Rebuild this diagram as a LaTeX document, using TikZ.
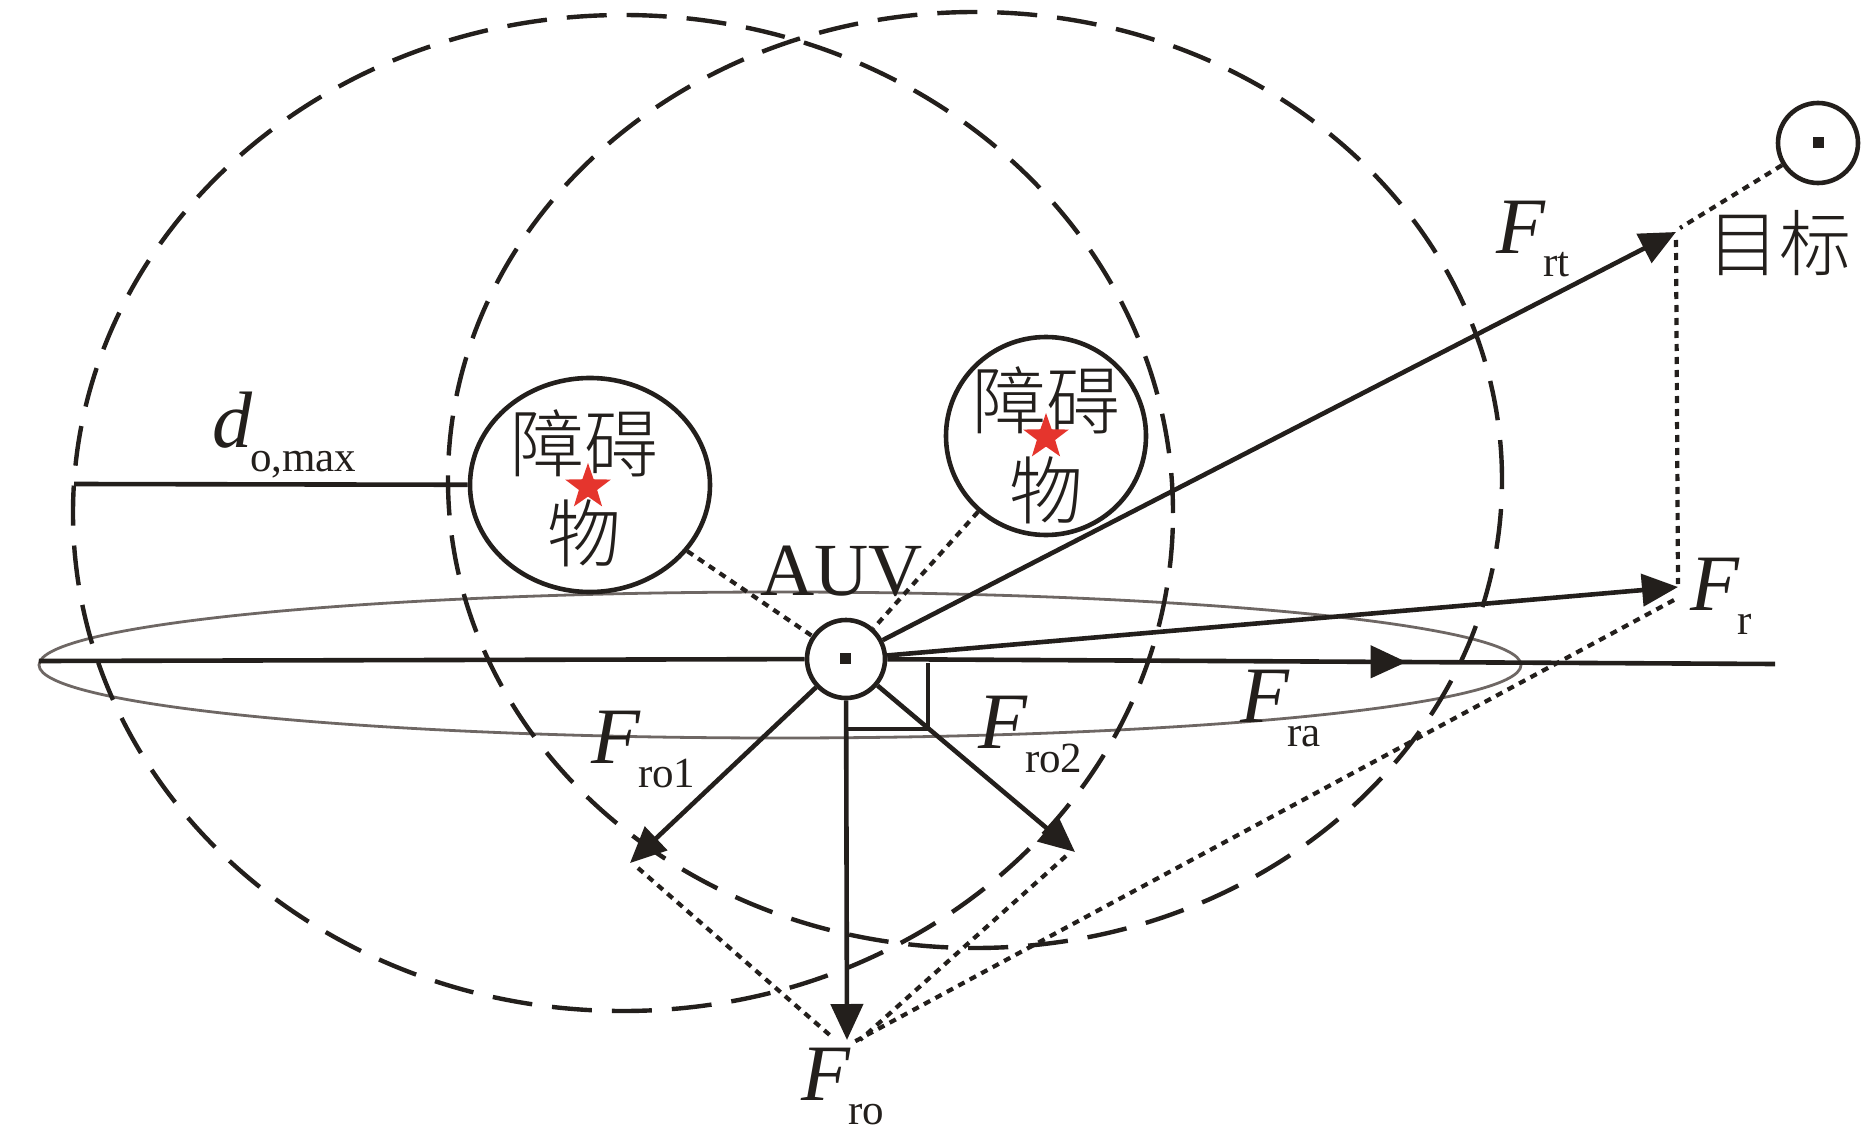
\documentclass[tikz,border=0pt]{standalone}
\usepackage{fontspec}
\setmainfont{Liberation Serif}
\newfontfamily\cjk{Noto Sans CJK SC Light}
\usetikzlibrary{arrows.meta}
\usetikzlibrary{shapes.geometric}
\usetikzlibrary{decorations.markings}
\definecolor{ink}{HTML}{231F1C}
\definecolor{starred}{HTML}{E5352D}
\definecolor{ringgray}{HTML}{6E6764}
\tikzset{
    force/.style={draw=ink, line width=4.6pt, -{Triangle[length=36pt,width=32pt]}},
    guide/.style={draw=ink, line width=4.2pt, dash pattern=on 7pt off 6pt},
    rangering/.style={shape=ellipse, draw=ink, line width=4.4pt, dash pattern=on 40pt off 20pt, inner sep=0pt},
    bodyring/.style={shape=circle, draw=ink, line width=4.6pt, fill=white, minimum size=78pt, inner sep=0pt},
    obstacle/.style={shape=ellipse, draw=ink, line width=4.6pt, inner sep=0pt},
    centredot/.style={shape=rectangle, fill=ink, minimum size=11pt, inner sep=0pt},
    redstar/.style={shape=star, star points=5, star point ratio=2.5, fill=starred, minimum size=48pt, inner sep=0pt},
    lab/.style={inner sep=0pt, anchor=base west, text=ink},
    cjklab/.style={inner sep=0pt, text=ink, align=center}}
% force symbol with its lowered index
\newcommand{\symb}[2]{{\fontsize{80}{80}\selectfont\itshape #1}\kern-2pt\raisebox{-24pt}{\fontsize{43}{43}\selectfont #2}}
\begin{document}
\begin{tikzpicture}[x=1pt, y=-1pt]
    \useasboundingbox (0,0) rectangle (1866,1134);

    \node[shape=ellipse, draw=ringgray, line width=2.8pt, minimum width=1482pt, minimum height=146pt, inner sep=0pt] (disc) at (780,665) {};
    \node[rangering, minimum width=1100pt, minimum height=996pt] (rangeA) at (623,513) {};
    \node[rangering, minimum width=1054pt, minimum height=936pt] (rangeB) at (975,480) {};

    \node[obstacle, minimum width=240pt, minimum height=214pt] (obsA) at (590,485) {};
    \node[obstacle, minimum width=200pt, minimum height=198pt] (obsB) at (1046,436) {};
    \node[bodyring] (auv) at (846,659) {};
    \node[bodyring, minimum size=80pt] (goal) at (1818,143) {};
    \node[centredot] (auvdot) at (845,658) {};
    \node[centredot] (goaldot) at (1818,143) {};

    \coordinate (axisL) at (39,661);
    \coordinate (axisR) at (1775,664);
    \coordinate (tipRt) at (1676,232);
    \coordinate (tipR) at (1678,587);
    \coordinate (tipRo) at (847,1040);
    \coordinate (tipA) at (630,863);
    \coordinate (tipB) at (1075,852);
    \coordinate (radL) at (74,484);
    \coordinate (cornerA) at (928,663);
    \coordinate (cornerB) at (928,729);
    \coordinate (cornerC) at (848,729);

    \draw[draw=ink, line width=4.6pt] (axisL) -- (auv);
    \draw[draw=ink, line width=4.6pt, decoration={markings, mark=at position 0.585 with {\arrow{Triangle[length=36pt,width=32pt]}}}, postaction={decorate}] (auv) -- (axisR);
    \draw[draw=ink, line width=4.6pt] (radL) -- (obsA);
    \draw[draw=ink, line width=3.4pt] (cornerA) -- (cornerB) -- (cornerC);

    \draw[force] (auv) -- (tipRt);
    \draw[force] (auv) -- (tipR);
    \draw[force] (auv) -- (tipRo);
    \draw[force] (auv) -- (tipA);
    \draw[force] (auv) -- (tipB);

    \draw[guide] (obsA) -- (auv);
    \draw[guide] (obsB) -- (auv);
    \draw[guide] (goal) -- ([shift={(4,-4)}]tipRt);
    \draw[guide] ([yshift=-8pt]tipRt) -- ([yshift=3pt]tipR);
    \draw[guide] ([shift={(-4,13)}]tipR) -- ([shift={(5,3)}]tipRo);
    \draw[guide] ([shift={(8,5)}]tipA) -- ([shift={(-15,-3)}]tipRo);
    \draw[guide] ([shift={(-9,4)}]tipB) -- ([shift={(13,0)}]tipRo);

    \node[cjklab, font=\fontsize{74}{90}\selectfont\cjk] (obsAtext) at (584,488) {障碍\\物};
    \node[cjklab, font=\fontsize{74}{90}\selectfont\cjk] (obsBtext) at (1046,445) {障碍\\物};
    \node[redstar] (starA) at (588,487) {};
    \node[redstar] (starB) at (1046,437) {};
    \node[cjklab, font=\fontsize{72}{72}\selectfont\cjk] (goaltext) at (1779,243) {目标};

    \node[lab, font=\fontsize{75}{75}\selectfont] (auvtext) at (760,595) {AUV};
    \node[lab] (frt) at (1496,253) {\symb{F}{rt}};
    \node[lab] (fr) at (1690,610) {\symb{F}{r}};
    \node[lab] (fra) at (1240,722) {\symb{F}{ra}};
    \node[lab] (fro1) at (591,763) {\symb{F}{ro1}};
    \node[lab] (fro2) at (978,748) {\symb{F}{ro2}};
    \node[lab] (fro) at (801,1100) {\symb{F}{ro}};
    \node[lab] (dmax) at (212,447) {\symb{d}{o,max}};

\end{tikzpicture}
\end{document}
